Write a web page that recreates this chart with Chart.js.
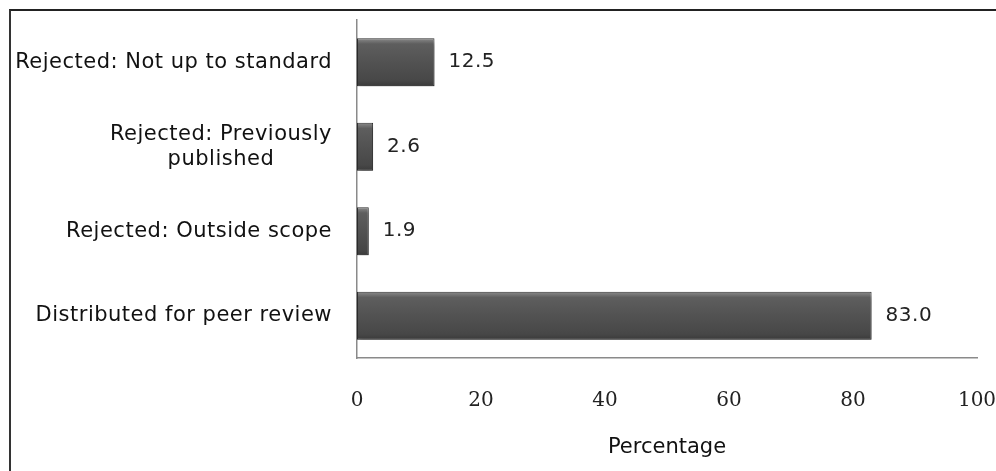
<!DOCTYPE html>
<html>
<head>
<meta charset="utf-8">
<title>Manuscript outcomes</title>
<script src="https://cdn.jsdelivr.net/npm/chart.js@4.4.1/dist/chart.umd.min.js"></script>
<style>
    html, body { margin: 0; padding: 0; background: #fff; }
    #wrap { position: relative; width: 996px; height: 471px; overflow: hidden; }
    #frame {
        position: absolute; left: 9px; top: 9px; width: 1100px; height: 600px;
        border-top: 2px solid #222; border-left: 2px solid #333;
    }
    canvas { position: absolute; left: 0; top: 0; }
</style>
</head>
<body>
<div id="wrap">
    <div id="frame"></div>
    <canvas id="chartResultados" width="996" height="471"></canvas>
</div>
<script>
// ── Datos ─────────────────────────────────────────────────────────────────
var categorias = [
    ['Rejected: Not up to standard'],
    ['Rejected: Previously', 'published'],
    ['Rejected: Outside scope'],
    ['Distributed for peer review']
];
var porcentajes = [12.5, 2.6, 1.9, 83.0];
var ticksX = [0, 20, 40, 60, 80, 100];

var FUENTE = '"DejaVu Sans", "Noto Sans", sans-serif';

// relleno con degradado vertical por barra (efecto biselado)
function rellenoBarra(c) {
    var chart = c.chart;
    var y = chart.scales.y;
    if (!chart.chartArea || !y) return '#4f4f4f';
    var centro = y.getPixelForValue(c.dataIndex);
    var alto = (y.getPixelForValue(1) - y.getPixelForValue(0)) * 0.57;
    var g = chart.ctx.createLinearGradient(0, centro - alto / 2, 0, centro + alto / 2);
    g.addColorStop(0, '#8c8c8c');
    g.addColorStop(0.12, '#5e5e5e');
    g.addColorStop(0.5, '#525252');
    g.addColorStop(0.88, '#474747');
    g.addColorStop(1, '#3a3a3a');
    return g;
}

// sombra suave debajo de las barras
var sombraBarras = {
    id: 'sombraBarras',
    beforeDatasetsDraw: function (chart) {
        var ctx = chart.ctx;
        ctx.save();
        ctx.shadowColor = 'rgba(0,0,0,0.35)';
        ctx.shadowBlur = 5;
        ctx.shadowOffsetX = 1;
        ctx.shadowOffsetY = 4;
    },
    afterDatasetsDraw: function (chart) {
        chart.ctx.restore();
    }
};

// etiquetas de categoría (líneas centradas entre sí, bloque alineado a la derecha)
var etiquetasCategoria = {
    id: 'etiquetasCategoria',
    afterDraw: function (chart) {
        var ctx = chart.ctx;
        var y = chart.scales.y;
        var derecha = 332, alturaLinea = 25;
        ctx.save();
        ctx.font = '21px ' + FUENTE;
        ctx.letterSpacing = '0.5px';
        ctx.fillStyle = '#111';
        ctx.textBaseline = 'middle';
        ctx.textAlign = 'center';
        categorias.forEach(function (lineas, i) {
            var ancho = 0;
            lineas.forEach(function (t) { ancho = Math.max(ancho, ctx.measureText(t).width); });
            var cx = derecha - ancho / 2;
            var cy = y.getPixelForValue(i) - (lineas.length - 1) * alturaLinea / 2;
            lineas.forEach(function (t, k) { ctx.fillText(t, cx, cy + k * alturaLinea); });
        });
        ctx.restore();
    }
};

// valores al final de cada barra
var valoresBarras = {
    id: 'valoresBarras',
    afterDatasetsDraw: function (chart) {
        var ctx = chart.ctx;
        var meta = chart.getDatasetMeta(0);
        ctx.save();
        ctx.font = '20px ' + FUENTE;
        ctx.letterSpacing = '0.5px';
        ctx.fillStyle = '#222';
        ctx.textAlign = 'left';
        ctx.textBaseline = 'middle';
        meta.data.forEach(function (barra, i) {
            ctx.fillText(porcentajes[i].toFixed(1), barra.x + 14, barra.y);
        });
        ctx.restore();
    }
};

new Chart(document.getElementById('chartResultados').getContext('2d'), {
    type: 'bar',
    data: {
        labels: categorias.map(function (l) { return l.join(' '); }),
        datasets: [{
            data: porcentajes,
            backgroundColor: rellenoBarra,
            borderColor: '#2e2e2e',
            borderWidth: 1,
            borderSkipped: false,
            categoryPercentage: 1,
            barPercentage: 0.57
        }]
    },
    options: {
        indexAxis: 'y',
        responsive: false,
        animation: false,
        layout: { padding: { top: 20, right: 0, left: 0, bottom: 0 } },
        plugins: {
            legend: { display: false },
            tooltip: { enabled: false }
        },
        scales: {
            y: {
                grid: { display: false },
                border: { display: true, color: '#8a8a8a', width: 1.5 },
                ticks: { display: false },
                afterFit: function (s) { s.width = 357; }
            },
            x: {
                min: 0,
                max: 100,
                afterBuildTicks: function (s) {
                    s.ticks = ticksX.map(function (v) { return { value: v }; });
                },
                grid: { display: false },
                border: { display: true, color: '#8a8a8a', width: 1.5 },
                ticks: {
                    padding: 23,
                    color: '#222',
                    font: { family: '"DejaVu Serif", serif', size: 20 }
                },
                title: {
                    display: true,
                    text: 'Percentage',
                    color: '#111',
                    padding: { top: 0, bottom: 11 },
                    font: { family: FUENTE, size: 21 }
                },
                afterFit: function (s) {
                    s.height = 113;
                    s.paddingLeft = 0;
                    s.paddingRight = 19;
                }
            }
        }
    },
    plugins: [sombraBarras, valoresBarras, etiquetasCategoria]
});
</script>
</body>
</html>
